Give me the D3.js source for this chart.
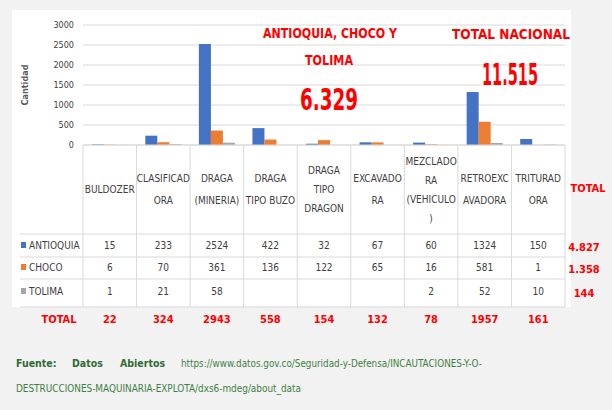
<!DOCTYPE html>
<html><head><meta charset="utf-8">
<script src="https://cdn.jsdelivr.net/npm/d3@7/dist/d3.min.js"></script>
<style>
html,body{margin:0;padding:0;background:#f2f2f2;}
svg{display:block;}
text{font-family:"Liberation Sans Narrow","DejaVu Sans Condensed","Roboto Condensed",sans-serif;font-stretch:condensed;}
</style></head>
<body><svg id="c" width="612" height="410"></svg>
<script>
const categories = ["BULDOZER","CLASIFICADORA","DRAGA (MINERIA)","DRAGA TIPO BUZO","DRAGA TIPO DRAGON","EXCAVADORA","MEZCLADORA (VEHICULO)","RETROEXCAVADORA","TRITURADORA"];
const headerLines = [["BULDOZER"],["CLASIFICAD","ORA"],["DRAGA","(MINERIA)"],["DRAGA","TIPO BUZO"],["DRAGA","TIPO","DRAGON"],["EXCAVADO","RA"],["MEZCLADO","RA","(VEHICULO",")"],["RETROEXC","AVADORA"],["TRITURAD","ORA"]];
const seriesNames = ["ANTIOQUIA","CHOCO","TOLIMA"];
const antioquia = [15,233,2524,422,32,67,60,1324,150];
const choco = [6,70,361,136,122,65,16,581,1];
const tolima = [1,21,58,null,null,null,2,52,10];
const columnTotals = [22,324,2943,558,154,132,78,1957,161];
const seriesTotals = ["4.827","1.358","144"];
const yTicks = [0,500,1000,1500,2000,2500,3000];
const colors = ["#4472C4","#ED7D31","#A5A5A5"];

const series = [antioquia, choco, tolima];
const svg = d3.select("#c");

// white panel
svg.append("rect").attr("x",12).attr("y",10).attr("width",559).attr("height",297).attr("fill","#ffffff");

const x = d3.scaleBand().domain(categories).range([83,565]).padding(0);
const xs = d3.scaleBand().domain(seriesNames).range([0,36]);
const y = d3.scaleLinear().domain([0,3000]).range([145,25]);

// gridlines
svg.append("g").selectAll("line").data(yTicks).join("line")
  .attr("x1",83).attr("x2",565).attr("y1",d=>y(d)).attr("y2",d=>y(d))
  .attr("stroke","#d9d9d9").attr("stroke-width",1);

// y axis labels
const yAxis = d3.axisLeft(y).tickValues(yTicks).tickFormat(d3.format("d")).tickSize(0).tickPadding(0);
const ga = svg.append("g").attr("transform","translate(74,0)").call(yAxis);
ga.select(".domain").remove();
ga.selectAll("text").attr("font-size",9).attr("fill","#404040").style("font-family",'"Liberation Sans Narrow","DejaVu Sans Condensed",sans-serif');

svg.append("text").attr("transform","translate(28,85) rotate(-90)").attr("text-anchor","middle")
  .attr("font-size",9).attr("font-weight","bold").attr("fill","#595959").text("Cantidad");

// bars
seriesNames.forEach((s,i)=>{
  svg.append("g").selectAll("rect").data(series[i].map((v,j)=>({c:categories[j],v})).filter(d=>d.v!=null)).join("rect")
    .attr("x",d=>x(d.c)+(x.bandwidth()-36)/2+xs(s))
    .attr("y",d=>y(d.v)).attr("width",xs.bandwidth()).attr("height",d=>y(0)-y(d.v))
    .attr("fill",colors[i]);
});

// table lines
const tg = svg.append("g").attr("stroke","#d9d9d9").attr("stroke-width",1);
const bounds = categories.map(c=>x(c)).concat([x.range()[1]]);
tg.selectAll("line.v").data(bounds).join("line").attr("class","v")
  .attr("x1",d=>d).attr("x2",d=>d).attr("y1",145).attr("y2",307);
const rowTops = [234,257,279,307];
tg.selectAll("line.h").data(rowTops).join("line").attr("class","h")
  .attr("x1",20).attr("x2",565).attr("y1",d=>d).attr("y2",d=>d);
svg.append("line").attr("x1",83).attr("x2",565).attr("y1",145).attr("y2",145).attr("stroke","#d9d9d9");

// header text
const hg = svg.append("g");
headerLines.forEach((lines,j)=>{
  const cx = x(categories[j]) + x.bandwidth()/2;
  const lh = lines.length>=3 ? 19 : 22;
  const y0 = 193 - (lines.length-1)*lh/2;
  lines.forEach((t,k)=>{
    hg.append("text").attr("x",cx).attr("y",y0+k*lh).attr("text-anchor","middle")
      .attr("font-size",10).attr("fill","#404040").text(t);
  });
});

// row labels & values
const rowCenters = [249,271,295];
seriesNames.forEach((s,i)=>{
  svg.append("rect").attr("x",21).attr("y",rowCenters[i]-7).attr("width",5).attr("height",6).attr("fill",colors[i]);
  svg.append("text").attr("x",29).attr("y",rowCenters[i]).attr("font-size",10).attr("fill","#404040").text(s);
  series[i].forEach((v,j)=>{
    if(v==null) return;
    svg.append("text").attr("x",x(categories[j])+x.bandwidth()/2).attr("y",rowCenters[i])
      .attr("text-anchor","middle").attr("font-size",10).attr("fill","#404040").text(v);
  });
  svg.append("text").attr("x",584).attr("y",rowCenters[i]+2).attr("text-anchor","middle")
    .attr("font-size",11).attr("font-weight","bold").attr("fill","#ff0000").text(seriesTotals[i]);
});

// TOTAL column header
svg.append("text").attr("x",588).attr("y",192).attr("text-anchor","middle")
  .attr("font-size",11).attr("font-weight","bold").attr("fill","#ff0000").text("TOTAL");

// TOTAL row
svg.append("text").attr("x",59).attr("y",323).attr("text-anchor","middle")
  .attr("font-size",11).attr("font-weight","bold").attr("fill","#ff0000").text("TOTAL");
columnTotals.forEach((v,j)=>{
  svg.append("text").attr("x",x(categories[j])+x.bandwidth()/2).attr("y",323).attr("text-anchor","middle")
    .attr("font-size",11).attr("font-weight","bold").attr("fill","#ff0000").text(v);
});

// annotations
const ann = [
  {t:"ANTIOQUIA, CHOCO Y", x:330, y:38, s:14, w:134},
  {t:"TOLIMA", x:329, y:65, s:14, w:48},
  {t:"6.329", x:329, y:110, s:31, w:58},
  {t:"TOTAL NACIONAL", x:511, y:39, s:14, w:118},
  {t:"11.515", x:510, y:85, s:31, w:56}
];
ann.forEach(a=>{
  svg.append("text").attr("x",a.x).attr("y",a.y).attr("text-anchor","middle")
    .attr("font-size",a.s).attr("font-weight","bold").attr("fill","#ff0000")
    .attr("textLength",a.w).attr("lengthAdjust","spacingAndGlyphs").text(a.t);
});

// footer
const f = svg.append("g").attr("font-size",10.5);
f.append("text").attr("x",16).attr("y",367).attr("font-weight","bold").attr("fill","#2f6b33").text("Fuente:");
f.append("text").attr("x",72).attr("y",367).attr("font-weight","bold").attr("fill","#2f6b33").text("Datos");
f.append("text").attr("x",120).attr("y",367).attr("font-weight","bold").attr("fill","#2f6b33").text("Abiertos");
f.append("text").attr("x",181).attr("y",367).attr("fill","#3f7f45")
  .attr("textLength",301).attr("lengthAdjust","spacingAndGlyphs")
  .text("https://www.datos.gov.co/Seguridad-y-Defensa/INCAUTACIONES-Y-O-");
f.append("text").attr("x",16).attr("y",392).attr("fill","#3f7f45")
  .attr("textLength",285).attr("lengthAdjust","spacingAndGlyphs")
  .text("DESTRUCCIONES-MAQUINARIA-EXPLOTA/dxs6-mdeg/about_data");
</script></body></html>
